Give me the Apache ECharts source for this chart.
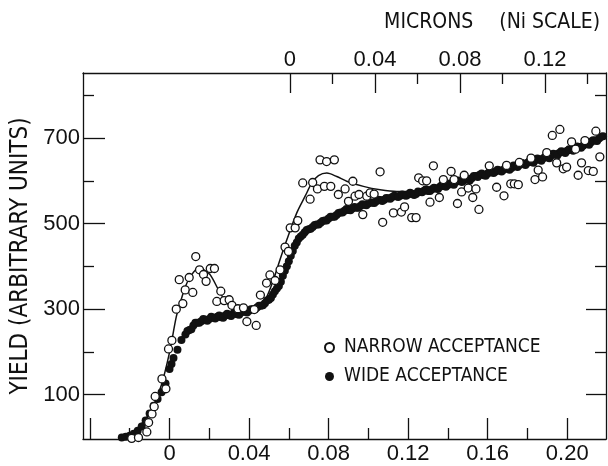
<!DOCTYPE html>
<html><head><meta charset="utf-8">
<script src="https://cdn.jsdelivr.net/npm/echarts@6/dist/echarts.min.js"></script>
<style>html,body{margin:0;padding:0;background:#fff}#c{width:608px;height:466px}</style>
</head><body><div id="c"></div>
<script>
// ---- tick / label values ----
const xMajorTicks = [-0.04, 0, 0.04, 0.08, 0.12, 0.16, 0.20];
const xMinorTicks = [-0.02, 0.02, 0.06, 0.10, 0.14, 0.18];
const xLabelValues = [0, 0.04, 0.08, 0.12, 0.16, 0.20];
const topMajorTicks = [0, 0.04, 0.08, 0.12];
const topMinorTicks = [0.02, 0.06, 0.10, 0.14];
const yMajorTicks = [100, 300, 500, 700];
const yMinorTicks = [200, 400, 600, 800];

// ---- series data [x, yield] ----
const wideAcceptance = [
[-0.024,0],[-0.022,2],[-0.020,4],[-0.018,9],[-0.016,16],[-0.014,26],[-0.012,40],[-0.010,56],
[-0.008,74],[-0.006,90],[-0.004,106],[-0.002,126],[0.000,160],[0.001,172],[0.002,186],[0.004,205],
[0.006,228],[0.008,241],[0.010,251],[0.012,262],[0.014,268],[0.016,272],[0.018,275],[0.020,277],
[0.022,280],[0.024,282],[0.026,281],[0.028,285],[0.030,286],[0.032,289],[0.034,288],[0.036,292],
[0.038,294],[0.040,296],[0.042,300],[0.044,304],[0.046,308],[0.048,314],[0.050,322],[0.052,334],
[0.054,348],[0.056,364],[0.058,390],[0.060,412],[0.062,436],[0.064,456],[0.066,470],[0.068,480],
[0.070,487],[0.072,492],[0.074,498],[0.076,502],[0.078,507],[0.080,512],[0.082,516],[0.084,520],
[0.086,526],[0.088,530],[0.090,532],[0.092,535],[0.094,537],[0.096,541],[0.098,544],[0.100,547],
[0.102,549],[0.104,552],[0.106,555],[0.108,556],[0.110,559],[0.112,562],[0.114,564],[0.116,565],
[0.118,566],[0.120,568],[0.122,570],[0.124,569],[0.126,574],[0.128,577],[0.130,576],[0.132,580],
[0.134,582],[0.136,586],[0.138,588],[0.140,590],[0.142,592],[0.144,597],[0.146,600],[0.148,601],
[0.150,604],[0.152,606],[0.154,611],[0.156,614],[0.158,613],[0.160,617],[0.162,620],[0.164,622],
[0.166,624],[0.168,626],[0.170,629],[0.172,630],[0.174,635],[0.176,637],[0.178,640],[0.180,642],
[0.182,644],[0.184,648],[0.186,650],[0.188,653],[0.190,655],[0.192,659],[0.194,662],[0.196,665],
[0.198,668],[0.200,670],[0.202,673],[0.204,675],[0.206,679],[0.208,682],[0.210,686],[0.212,690],
[0.214,694],[0.216,699],[0.218,704],
[0.009,249],[0.011,253],[0.013,268],[0.015,268],[0.017,277],[0.019,273],[0.021,282],[0.023,278],
[0.025,285],[0.027,280],[0.029,289],[0.031,284],[0.033,292],[0.035,287],[0.037,296],[0.039,292],
[0.041,300],[0.043,300],[0.045,308],[0.047,309],[0.049,320],[0.051,326],[0.053,342],[0.055,354],
[0.057,378],[0.059,400],[0.061,425],[0.063,448],[0.065,465],[0.067,474],[0.069,485],[0.071,488],
[0.073,497],[0.075,498],[0.077,506],[0.079,507],[0.081,516],[0.083,516],[0.085,525],[0.087,526],
[0.089,534],[0.091,531],[0.093,539],[0.095,537],[0.097,545],[0.099,543],[0.101,550],[0.103,548],
[0.105,556],[0.107,553],[0.109,560],[0.111,558],[0.113,565],[0.115,562],[0.117,568],[0.119,565],
[0.121,572],[0.123,567],[0.125,575],[0.127,573],[0.129,580],[0.131,576],[0.133,584],[0.135,581],
[0.137,590],[0.139,586],[0.141,594],[0.143,591],[0.145,601],[0.147,597],[0.149,606],[0.151,601],
[0.153,611],[0.155,609],[0.157,617],[0.159,612],[0.161,622],[0.163,618],[0.165,626],[0.167,622],
[0.169,631],[0.171,626],[0.173,636],[0.175,632],[0.177,642],[0.179,637],[0.181,646],[0.183,642],
[0.185,652],[0.187,647],[0.189,657],[0.191,653],[0.193,663],[0.195,659],[0.197,669],[0.199,665],
[0.201,674],[0.203,670],[0.205,680],[0.207,677],[0.209,687],[0.211,684],[0.213,695],[0.215,693],
[0.217,703]
];
const narrowAcceptance = [
[-0.019,-2],[-0.0156,0],[-0.0114,13],[-0.0105,35],[-0.0088,55],[-0.0077,72],[-0.0072,96],[-0.0038,137],
[-0.0018,114],[-0.0005,207],[0.0012,227],[0.0034,300],[0.0049,369],[0.0067,313],[0.0079,345],[0.0099,374],
[0.0117,339],[0.0132,423],[0.0151,392],[0.0171,381],[0.0184,365],[0.0205,395],[0.0226,395],[0.0238,318],
[0.0258,342],[0.0275,320],[0.030,322],[0.0314,309],[0.0344,301],[0.0372,303],[0.0389,271],[0.0426,299],
[0.0436,262],[0.0457,333],[0.0488,361],[0.0505,380],[0.0531,367],[0.0556,392],[0.0581,445],[0.0598,435],
[0.0607,490],[0.0632,490],[0.0645,507],[0.067,595],[0.0707,557],[0.072,596],[0.0744,581],[0.0757,649],
[0.0779,587],[0.079,645],[0.0811,587],[0.0829,649],[0.0849,568],[0.0883,581],[0.09,552],[0.0922,599],
[0.0933,564],[0.0953,568],[0.0972,521],[0.0992,564],[0.1009,572],[0.1029,569],[0.1059,621],[0.1072,503],
[0.1126,525],[0.1166,527],[0.1182,539],[0.1218,514],[0.124,514],[0.1253,607],[0.1273,600],[0.1293,600],
[0.131,550],[0.1327,635],[0.1357,561],[0.1377,603],[0.1416,622],[0.1431,603],[0.1448,547],[0.1469,574],
[0.1482,613],[0.1502,583],[0.1525,561],[0.1541,581],[0.1556,533],[0.1608,635],[0.1645,585],[0.1682,565],
[0.1695,636],[0.1716,593],[0.1734,593],[0.1754,591],[0.1759,643],[0.1818,653],[0.1838,603],[0.1854,625],
[0.1876,609],[0.1897,666],[0.1925,706],[0.1947,642],[0.1963,720],[0.198,628],[0.1997,632],[0.2022,691],
[0.2042,674],[0.2055,613],[0.2072,642],[0.2089,694],[0.2106,624],[0.2131,622],[0.2144,716],[0.2164,656]
];
const narrowFit = [
[-0.022,1],[-0.018,8],[-0.0147,28],[-0.011,50],[-0.008,73],[-0.0038,127],[-0.0013,172],[0.0005,210],
[0.0034,282],[0.0054,315],[0.0079,352],[0.0104,375],[0.0146,396],[0.0175,391],[0.0205,380],[0.0255,338],
[0.0297,310],[0.0355,297],[0.0405,297],[0.0445,300],[0.049,330],[0.0523,369],[0.0556,416],[0.059,462],
[0.064,525],[0.0682,564],[0.0716,595],[0.0749,612],[0.0791,618],[0.0841,610],[0.0891,599],[0.0975,587],
[0.1059,579],[0.1143,575],[0.121,575],[0.126,576]
];

const INK = '#111';
const NUM_FONT = 'Liberation Sans';
const WORD_FONT = '"Liberation Sans Narrow", "DejaVu Sans Condensed", "Liberation Sans", sans-serif';
const fmt = v => (Math.abs(v) < 1e-9 ? '0' : v.toFixed(2));
const X_MIN = -0.0435, X_MAX = 0.2195, TOP_MIN = -0.0974, TOP_MAX = 0.1487, Y_MIN = -3.5, Y_MAX = 852;
const gridRect = {left: 83, right: 2, top: 73, bottom: 27};
const lineStyle = {color: INK, width: 1.3};
const numLabel = {fontFamily: NUM_FONT, fontSize: 22, color: INK};
const wordText = {fontFamily: WORD_FONT, fontSize: 21, color: INK};

const option = {
  animation: false,
  backgroundColor: '#fff',
  title: {
    text: '{a|MICRONS}{g|}{a|(Ni SCALE)}', right: 3, top: 7,
    textStyle: {
      fontFamily: WORD_FONT, fontSize: 21, fontWeight: 'normal', color: INK,
      rich: {a: wordText, g: {width: 26, height: 10}}
    }
  },
  legend: {
    orient: 'vertical', left: 319, top: 333, itemGap: 10, itemWidth: 9, itemHeight: 9,
    data: ['NARROW ACCEPTANCE', 'WIDE ACCEPTANCE'],
    textStyle: {fontFamily: WORD_FONT, fontSize: 19, color: INK, padding: [0, 0, 0, 5]}
  },
  grid: [Object.assign({}, gridRect), Object.assign({}, gridRect)],
  xAxis: [
    {type: 'value', gridIndex: 0, position: 'bottom', min: X_MIN, max: X_MAX,
     axisLine: {show: true, onZero: false, lineStyle},
     axisTick: {show: true, inside: true, length: 21, customValues: xMajorTicks, lineStyle},
     axisLabel: {show: true, customValues: xLabelValues, formatter: fmt, margin: 4, ...numLabel},
     splitLine: {show: false}},
    {type: 'value', gridIndex: 0, position: 'top', min: TOP_MIN, max: TOP_MAX,
     axisLine: {show: true, onZero: false, lineStyle},
     axisTick: {show: true, inside: true, length: 20, customValues: topMajorTicks, lineStyle},
     axisLabel: {show: true, customValues: topMajorTicks, formatter: fmt, margin: 2, ...numLabel},
     splitLine: {show: false}},
    {type: 'value', gridIndex: 1, position: 'bottom', min: X_MIN, max: X_MAX,
     axisLine: {show: false, onZero: false},
     axisTick: {show: true, inside: true, length: 11, customValues: xMinorTicks, lineStyle},
     axisLabel: {show: false}, splitLine: {show: false}},
    {type: 'value', gridIndex: 1, position: 'top', min: TOP_MIN, max: TOP_MAX,
     axisLine: {show: false, onZero: false},
     axisTick: {show: true, inside: true, length: 11, customValues: topMinorTicks, lineStyle},
     axisLabel: {show: false}, splitLine: {show: false}}
  ],
  yAxis: [
    {type: 'value', gridIndex: 0, position: 'left', min: Y_MIN, max: Y_MAX,
     name: 'YIELD (ARBITRARY UNITS)', nameLocation: 'middle', nameGap: 50, nameRotate: 90,
     nameTextStyle: {fontFamily: WORD_FONT, fontSize: 24, color: INK},
     axisLine: {show: true, onZero: false, lineStyle},
     axisTick: {show: true, inside: true, length: 22, customValues: yMajorTicks, lineStyle},
     axisLabel: {show: true, customValues: yMajorTicks, margin: 3, ...numLabel},
     splitLine: {show: false}},
    {type: 'value', gridIndex: 0, position: 'right', min: Y_MIN, max: Y_MAX,
     axisLine: {show: true, onZero: false, lineStyle},
     axisTick: {show: true, inside: true, length: 20, customValues: yMajorTicks, lineStyle},
     axisLabel: {show: false}, splitLine: {show: false}},
    {type: 'value', gridIndex: 1, position: 'left', min: Y_MIN, max: Y_MAX,
     axisLine: {show: false, onZero: false},
     axisTick: {show: true, inside: true, length: 11, customValues: yMinorTicks, lineStyle},
     axisLabel: {show: false}, splitLine: {show: false}},
    {type: 'value', gridIndex: 1, position: 'right', min: Y_MIN, max: Y_MAX,
     axisLine: {show: false, onZero: false},
     axisTick: {show: true, inside: true, length: 11, customValues: yMinorTicks, lineStyle},
     axisLabel: {show: false}, splitLine: {show: false}}
  ],
  series: [
    {type: 'line', name: 'fit', xAxisIndex: 0, yAxisIndex: 0, data: narrowFit, smooth: 0.3,
     showSymbol: false, symbol: 'none', lineStyle: {color: INK, width: 1.5}, z: 1, silent: true},
    {type: 'scatter', name: 'WIDE ACCEPTANCE', xAxisIndex: 0, yAxisIndex: 0, data: wideAcceptance,
     symbol: 'circle', symbolSize: 8, itemStyle: {color: INK, opacity: 1}, z: 2},
    {type: 'scatter', name: 'NARROW ACCEPTANCE', xAxisIndex: 0, yAxisIndex: 0, data: narrowAcceptance,
     symbol: 'circle', symbolSize: 8,
     itemStyle: {color: '#fff', borderColor: INK, borderWidth: 1.3, opacity: 1}, z: 3}
  ]
};
echarts.init(document.getElementById('c')).setOption(option);
</script></body></html>
